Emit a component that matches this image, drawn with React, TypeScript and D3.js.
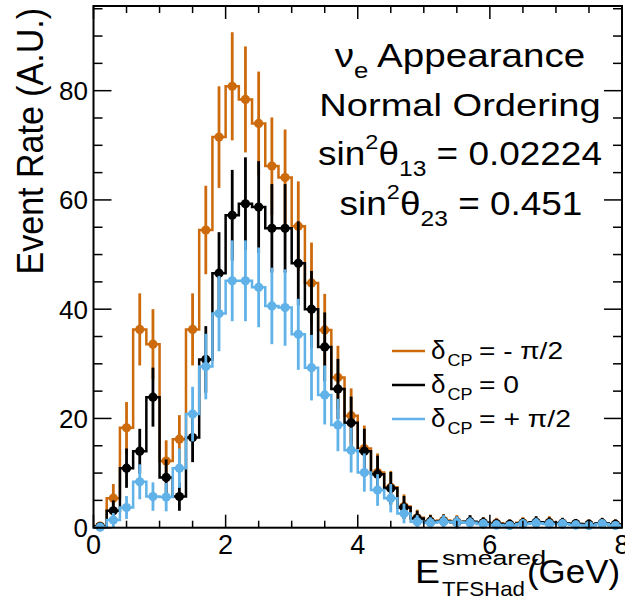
import React from 'react';
import * as d3 from 'd3';

// ---- data ----
const binCenters = [0.1, 0.3, 0.5, 0.7, 0.9, 1.1, 1.3, 1.5, 1.7, 1.9, 2.1, 2.3, 2.5, 2.7, 2.9, 3.1, 3.3, 3.5, 3.7, 3.9,
  4.1, 4.3, 4.5, 4.7, 4.9, 5.1, 5.3, 5.5, 5.7, 5.9, 6.1, 6.3, 6.5, 6.7, 6.9, 7.1, 7.3, 7.5, 7.7, 7.9];
const binWidth = 0.2;

const valsMinus = [0.3, 5.4, 18.3, 36.3, 33.6, 12.2, 16.2, 36.3, 54.5, 71.5, 80.8, 78.4, 74.0, 66.2, 64.1, 55.2, 44.8, 36.2, 27.5, 20.5,
  14.5, 10.1, 7.4, 3.9, 1.8, 1.2, 1.3, 1.1, 1.0, 0.9, 0.8, 0.6, 0.9, 0.9, 1.0, 0.8, 0.7, 0.6, 0.8, 0.6];
const errsMinus = [0.6, 2.6, 4.7, 6.6, 6.4, 3.8, 4.4, 6.6, 8.1, 9.3, 9.9, 9.7, 9.5, 8.9, 8.8, 8.2, 7.4, 6.6, 5.8, 5.0,
  4.2, 3.5, 3.0, 2.2, 1.5, 1.2, 1.2, 1.2, 1.1, 1.0, 1.0, 0.9, 1.0, 1.0, 1.1, 1.0, 0.9, 0.9, 1.0, 0.9];

const valsZero = [0.2, 3.1, 10.9, 14.0, 23.9, 9.2, 5.7, 16.5, 30.8, 46.6, 57.2, 59.3, 58.7, 54.8, 54.8, 48.4, 40.0, 33.1, 25.4, 19.2,
  14.0, 9.8, 7.2, 3.7, 1.7, 1.1, 1.2, 1.0, 1.1, 0.9, 0.7, 0.6, 0.8, 1.0, 0.9, 0.8, 0.7, 0.6, 0.8, 0.6];
const errsZero = [0.5, 1.9, 3.6, 4.1, 5.4, 3.3, 2.6, 4.5, 6.1, 7.5, 8.3, 8.5, 8.4, 8.1, 8.1, 7.7, 7.0, 6.3, 5.5, 4.8,
  4.1, 3.4, 3.0, 2.1, 1.4, 1.2, 1.2, 1.1, 1.2, 1.0, 0.9, 0.9, 1.0, 1.1, 1.0, 1.0, 0.9, 0.9, 1.0, 0.9];

const valsPlus = [0.1, 1.4, 3.7, 8.4, 5.7, 5.6, 10.9, 20.8, 29.5, 39.2, 45.2, 45.2, 44.0, 40.6, 40.3, 35.4, 29.3, 24.3, 18.8, 14.2,
  10.1, 6.9, 5.4, 2.6, 1.1, 0.9, 1.1, 1.0, 0.9, 0.7, 0.5, 0.4, 0.7, 0.8, 0.7, 0.7, 0.5, 0.4, 0.7, 0.4];
const errsPlus = [0.4, 1.3, 2.1, 3.2, 2.6, 2.6, 3.6, 5.0, 6.0, 6.9, 7.4, 7.4, 7.3, 7.0, 7.0, 6.5, 6.0, 5.4, 4.8, 4.1,
  3.5, 2.9, 2.6, 1.8, 1.2, 1.0, 1.2, 1.1, 1.0, 0.9, 0.8, 0.7, 0.9, 1.0, 0.9, 0.9, 0.8, 0.7, 0.9, 0.7];

const xMajorTicks = [0, 2, 4, 6, 8];
const yMajorTicks = [0, 20, 40, 60, 80];
const xDomain = [0, 8];
const yDomain = [0, 95.5];

const seriesLabels = ['= - π/2', '= 0', '= + π/2'];
const seriesColors = ['#cc6a0c', '#000000', '#60b2e8'];

const FONT = '"Liberation Sans", Arial, Helvetica, sans-serif';

export default function App() {
  const W = 625, H = 609;
  const left = 93.5, right = 622, top = 6, bottom = 527.7;
  const x = d3.scaleLinear().domain(xDomain).range([left, right]);
  const y = d3.scaleLinear().domain(yDomain).range([bottom, top]);

  const series = [
    { vals: valsMinus, errs: errsMinus, color: seriesColors[0], label: seriesLabels[0] },
    { vals: valsZero, errs: errsZero, color: seriesColors[1], label: seriesLabels[1] },
    { vals: valsPlus, errs: errsPlus, color: seriesColors[2], label: seriesLabels[2] },
  ];

  const stepLine = d3.line<[number, number]>()
    .x(d => x(d[0]))
    .y(d => y(d[1]))
    .curve(d3.curveStepAfter);

  const xMinor = d3.range(xDomain[0], xDomain[1] + 0.001, 0.5);
  const yMinor = d3.range(0, yDomain[1], 5);

  return (
    <svg width={W} height={H} style={{ position: 'absolute', left: 0, top: 0, background: '#fff' }} fontFamily={FONT}>
      <rect x={0} y={0} width={W} height={H} fill="#fff" />
      {series.map((s, si) => {
        const pts: [number, number][] = binCenters.map((c, i) => [c - binWidth / 2, s.vals[i]] as [number, number]);
        pts.push([binCenters[binCenters.length - 1] + binWidth / 2, s.vals[s.vals.length - 1]]);
        return (
          <g key={si}>
            <path d={stepLine(pts) || ''} fill="none" stroke={s.color} strokeWidth={2.5} />
            {binCenters.map((c, i) => (
              <line key={'e' + i} x1={x(c)} x2={x(c)} y1={y(s.vals[i] - s.errs[i])} y2={y(s.vals[i] + s.errs[i])}
                stroke={s.color} strokeWidth={2.8} />
            ))}
            {binCenters.map((c, i) => (
              <circle key={'m' + i} cx={x(c)} cy={y(s.vals[i])} r={4.6} fill={s.color} />
            ))}
          </g>
        );
      })}

      <rect x={left} y={top} width={right - left} height={bottom - top} fill="none" stroke="#000" strokeWidth={2} />
      {xMinor.map((t, i) => {
        const major = xMajorTicks.includes(t);
        const len = major ? 13 : 7;
        return (
          <g key={'xt' + i}>
            <line x1={x(t)} x2={x(t)} y1={bottom} y2={bottom - len} stroke="#000" strokeWidth={1.5} />
            <line x1={x(t)} x2={x(t)} y1={top} y2={top + len} stroke="#000" strokeWidth={1.5} />
          </g>
        );
      })}
      {yMinor.map((t, i) => {
        const major = yMajorTicks.includes(t);
        const len = major ? 18 : 9;
        return (
          <g key={'yt' + i}>
            <line x1={left} x2={left + len} y1={y(t)} y2={y(t)} stroke="#000" strokeWidth={1.5} />
            <line x1={right} x2={right - len} y1={y(t)} y2={y(t)} stroke="#000" strokeWidth={1.5} />
          </g>
        );
      })}
      {xMajorTicks.map(t => (
        <text key={'xl' + t} x={x(t)} y={554} textAnchor="middle" fontSize={27} fill="#000">{t}</text>
      ))}
      {yMajorTicks.map(t => (
        <text key={'yl' + t} x={88} y={y(t) + 9.5} textAnchor="end" fontSize={26} fill="#000">{t}</text>
      ))}

      <g transform="translate(43, 8) scale(1.1, 1) rotate(-90)">
        <text textAnchor="end" fontSize={34} fill="#000">Event Rate (A.U.)</text>
      </g>
      <text x={415} y={583} fontSize={33} fill="#000" textLength={25} lengthAdjust="spacingAndGlyphs">E</text>
      <text x={442} y={565} fontSize={20} fill="#000" textLength={104} lengthAdjust="spacingAndGlyphs">smeared</text>
      <text x={442} y={596} fontSize={21} fill="#000" textLength={83} lengthAdjust="spacingAndGlyphs">TFSHad</text>
      <text x={527} y={583} fontSize={33} fill="#000" textLength={93} lengthAdjust="spacingAndGlyphs">(GeV)</text>

      <g transform="translate(460, 66.7) scale(1.17, 1)">
        <text textAnchor="middle" fontSize={33} fill="#000">
          <tspan>ν</tspan><tspan fontSize={22} dy={11}>e</tspan><tspan dy={-11}> Appearance</tspan>
        </text>
      </g>
      <g transform="translate(460, 115.5) scale(1.19, 1)">
        <text textAnchor="middle" fontSize={32} fill="#000">Normal Ordering</text>
      </g>
      <g transform="translate(460, 165) scale(1.12, 1)">
        <text textAnchor="middle" fontSize={33} fill="#000">
          <tspan>sin</tspan><tspan fontSize={21} dy={-16}>2</tspan><tspan dy={16}>θ</tspan>
          <tspan fontSize={22} dy={11}>13</tspan><tspan dy={-11}> = 0.02224</tspan>
        </text>
      </g>
      <g transform="translate(461, 215) scale(1.12, 1)">
        <text textAnchor="middle" fontSize={33} fill="#000">
          <tspan>sin</tspan><tspan fontSize={21} dy={-16}>2</tspan><tspan dy={16}>θ</tspan>
          <tspan fontSize={22} dy={11}>23</tspan><tspan dy={-11}> = 0.451</tspan>
        </text>
      </g>

      {series.map((s, i) => {
        const ly = 351 + i * 34;
        const widths = [84, 40, 92];
        return (
          <g key={'lg' + i}>
            <line x1={392} x2={425} y1={ly} y2={ly} stroke={s.color} strokeWidth={2.5} />
            <text x={431} y={ly + 7.5} fontSize={26} fill="#000">δ</text>
            <text x={447.5} y={ly + 14.5} fontSize={17} fill="#000" textLength={25} lengthAdjust="spacingAndGlyphs">CP</text>
            <text x={479} y={ly + 7.5} fontSize={24} fill="#000" textLength={widths[i]} lengthAdjust="spacingAndGlyphs">{s.label}</text>
          </g>
        );
      })}
    </svg>
  );
}
